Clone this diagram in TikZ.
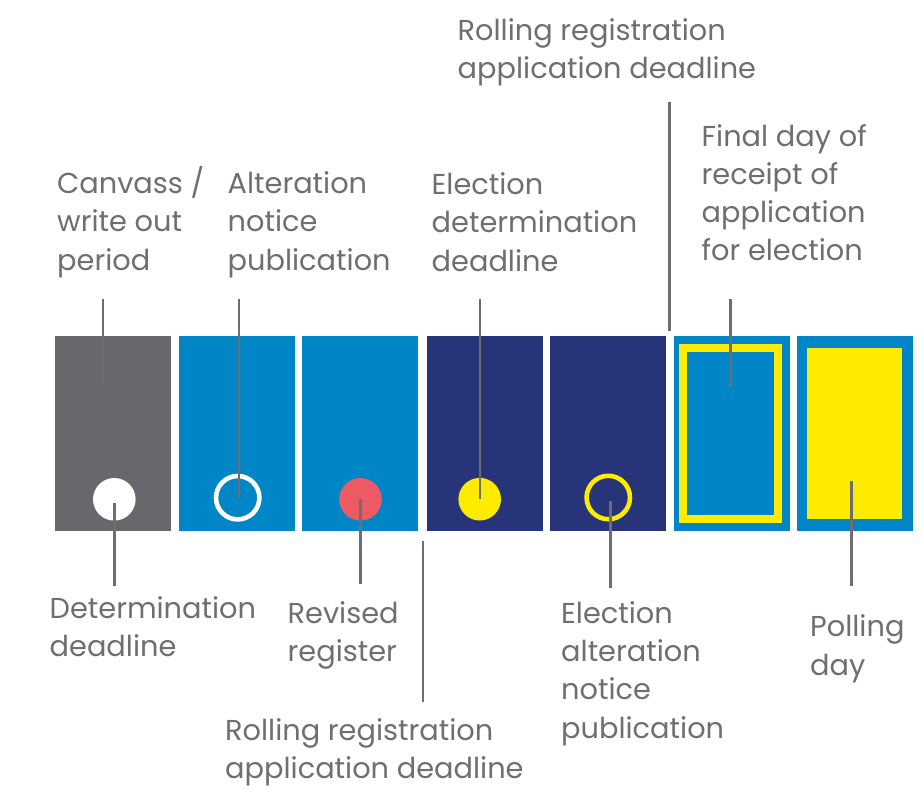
\documentclass[tikz,border=0pt]{standalone}
\usepackage{fontspec}
\setmainfont{Poppins}
\definecolor{boxgray}{HTML}{6A676C}
\definecolor{boxblue}{HTML}{0085C7}
\definecolor{boxnavy}{HTML}{283479}
\definecolor{mkyellow}{HTML}{FFEB00}
\definecolor{mkred}{HTML}{EE5A63}
\definecolor{linegray}{HTML}{6E6E72}
\definecolor{txtgray}{HTML}{6E6E73}
\newcommand{\lbltext}[1]{\begin{tabular}[t]{@{}l@{}}#1\end{tabular}}
\begin{document}
\begin{tikzpicture}[x=1pt,y=-1pt,
  tl/.style={anchor=base west, inner sep=0pt, text=txtgray, font=\fontsize{28.8}{38.3}\selectfont},
  tbox/.style={draw=none, minimum width=116pt, minimum height=194.5pt, inner sep=0pt},
  dotfill/.style={circle, draw=none, minimum size=42.6pt, inner sep=0pt},
  dotring/.style={circle, fill=none, line width=4.6pt, minimum size=43.4pt, inner sep=0pt},
  conn/.style={draw=linegray, line width=2.4pt}]
\useasboundingbox (0,0) rectangle (923,796);
% boxes
\node[tbox, fill=boxgray] (b1) at (113,433.25) {};
\node[tbox, fill=boxblue] (b2) at (237,433.25) {};
\node[tbox, fill=boxblue] (b3) at (360,433.25) {};
\node[tbox, fill=boxnavy] (b4) at (485,433.25) {};
\node[tbox, fill=boxnavy] (b5) at (608,433.25) {};
\node[tbox, fill=boxblue] (b6) at (732,433.25) {};
\node[tbox, fill=boxblue] (b7) at (855,433.25) {};
% markers
\node[dotfill, fill=white] (m1) at (114.3,499.3) {};
\node[dotring, draw=white] (m2) at (237.7,497.7) {};
\node[dotfill, fill=mkred] (m3) at (360.5,499.3) {};
\node[dotfill, fill=mkyellow] (m4) at (479.7,499.2) {};
\node[dotring, draw=mkyellow] (m5) at (608.3,497.5) {};
\node[draw=mkyellow, line width=8pt, minimum width=94.5pt, minimum height=171pt, inner sep=0pt] (m6) at (730.25,433.6) {};
\node[fill=mkyellow, minimum width=95pt, minimum height=171pt, inner sep=0pt] (m7) at (854.5,433.5) {};
% labels
\node[tl] (l1) at (57,193.5) {\lbltext{Canvass /\\write out\\period}};
\node[tl] (l2) at (227.5,193.5) {\lbltext{Alteration\\notice\\publication}};
\node[tl] (l4) at (431.5,194.5) {\lbltext{Election\\determination\\deadline}};
\node[tl] (l8) at (457.5,40.5) {\lbltext{Rolling registration\\application deadline}};
\node[tl] (l6) at (701.5,146) {\lbltext{Final day of\\receipt of\\application\\for election}};
\node[tl] (l3) at (49.5,618.3) {\lbltext{Determination\\deadline}};
\node[tl] (l33) at (287.5,623.3) {\lbltext{Revised\\register}};
\node[tl] (l5) at (225,740) {\lbltext{Rolling registration\\application deadline}};
\node[tl] (l7) at (561,623.3) {\lbltext{Election\\alteration\\notice\\publication}};
\node[tl] (l9) at (810,636.7) {\lbltext{Polling\\day}};
% connector ends
\coordinate (c1a) at (103,299);  \coordinate (c1b) at (103,382);
\coordinate (c2a) at (239,299);
\coordinate (c3b) at (114.3,586);
\coordinate (c33b) at (360.5,584);
\coordinate (c5a) at (423,541);  \coordinate (c5b) at (423,702);
\coordinate (c4a) at (479.7,299);
\coordinate (c7b) at (610.3,588);
\coordinate (c8a) at (669.3,102); \coordinate (c8b) at (669.3,331);
\coordinate (c6a) at (730.3,299); \coordinate (c6b) at (730.3,387);
\coordinate (c9a) at (851.3,481); \coordinate (c9b) at (851.3,586);
% connectors
\draw[conn] (c1a) -- (c1b);
\draw[conn] (c2a) -- (c2a |- m2.center);
\draw[conn] (m1.center |- 0,503) -- (c3b);
\draw[conn] (m3.center) -- (c33b);
\draw[conn] (c5a) -- (c5b);
\draw[conn] (c4a) -- (m4.center);
\draw[conn] (c7b |- 0,500.7) -- (c7b);
\draw[conn] (c8a) -- (c8b);
\draw[conn] (c6a) -- (c6b);
\draw[conn] (c9a) -- (c9b);
\end{tikzpicture}
\end{document}
